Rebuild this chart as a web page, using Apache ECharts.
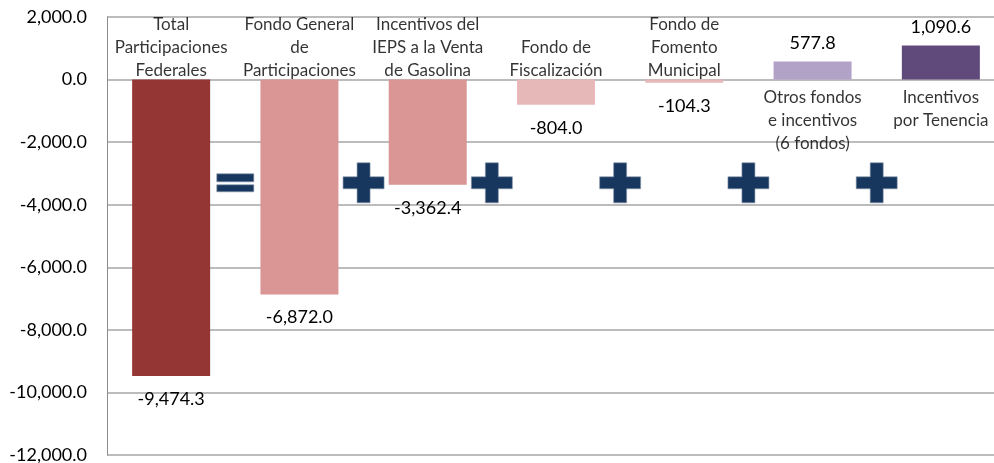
<!DOCTYPE html>
<html>
<head>
<meta charset="utf-8">
<script src="https://cdn.jsdelivr.net/npm/echarts@6/dist/echarts.min.js"></script>
<style>
  html, body { margin: 0; padding: 0; background: #fff; }
  #chart { width: 994px; height: 463px; }
</style>
</head>
<body>
<div id="chart"></div>
<script>
// categorias y valores (diferencia en millones de pesos)
const categories = [
  "Total\nParticipaciones\nFederales",
  "Fondo General\nde\nParticipaciones",
  "Incentivos del\nIEPS a la Venta\nde Gasolina",
  "Fondo de\nFiscalización",
  "Fondo de\nFomento\nMunicipal",
  "Otros fondos\ne incentivos\n(6 fondos)",
  "Incentivos\npor Tenencia",
];
const values = [-9474.3, -6872.0, -3362.4, -804.0, -104.3, 577.8, 1090.6];
const barColors = ["#943634", "#D99694", "#D99694", "#E6B9B8", "#E6B9B8", "#B3A2C7", "#604A7B"];

// signos entre barras: posicion (limite entre categorias) y nivel en el eje y
const operatorSlots = [1, 2, 3, 4, 5, 6];
const operatorSigns = ["=", "+", "+", "+", "+", "+"];
const operatorLevel = -3300;

const yMin = -12000;
const yMax = 2000;
const yStep = 2000;

const FONT = "Lato";

function fmt(v) {
  const s = Math.abs(v).toFixed(1).split(".");
  s[0] = s[0].replace(/\B(?=(\d{3})+(?!\d))/g, ",");
  return (v < 0 ? "-" : "") + s[0] + "." + s[1];
}

const plusPath = "path://M14,0h13v14h14v12h-14v14h-13v-14h-14v-12h14z";
const equalPath = "path://M0,0h37v8h-37z M0,11h37v7h-37z";

const chart = echarts.init(document.getElementById("chart"));
const option = {
  animation: false,
  grid: {
    left: 107,
    top: 17,
    width: 898,
    height: 438,
    containLabel: false,
    outerBoundsMode: "none",
  },
  xAxis: [
    {
      type: "category",
      data: categories,
      axisLine: { show: false },
      axisTick: { show: false },
      axisLabel: { show: false },
    },
    {
      type: "value",
      min: 0,
      max: categories.length,
      show: false,
    },
  ],
  yAxis: {
    type: "value",
    min: yMin,
    max: yMax,
    interval: yStep,
    axisLine: { show: true, lineStyle: { color: "#8c8c8c", width: 1 } },
    axisTick: { show: false },
    splitLine: { show: true, lineStyle: { color: "#a6a6a6", width: 1.5 } },
    axisLabel: {
      color: "#000",
      fontFamily: FONT,
      fontSize: 18,
      margin: 20,
      formatter: fmt,
    },
  },
  series: [
    {
      type: "bar",
      barWidth: 78,
      data: values.map((v, i) => ({
        value: v,
        itemStyle: { color: barColors[i] },
        label: {
          show: true,
          position: v < 0 ? "bottom" : "top",
          distance: v < 0 ? 14 : 9,
        },
      })),
      label: {
        color: "#000",
        fontFamily: FONT,
        fontSize: 18,
        formatter: (p) => fmt(p.value),
      },
    },
    {
      // nombres de las categorias junto al eje cero
      type: "scatter",
      symbolSize: 0.1,
      itemStyle: { color: "transparent" },
      data: values.map((v, i) => ({
        value: 0,
        label: {
          show: true,
          position: v < 0 ? "top" : "bottom",
          distance: v < 0 ? -2 : 6,
          formatter: categories[i],
        },
      })),
      label: {
        color: "#000",
        fontFamily: FONT,
        fontSize: 17,
        lineHeight: 23,
        align: "center",
      },
      z: 5,
    },
    {
      // signos = y +
      type: "scatter",
      xAxisIndex: 1,
      data: operatorSlots.map((x, i) => ({
        value: [x, operatorLevel],
        symbol: operatorSigns[i] === "=" ? equalPath : plusPath,
        symbolSize: operatorSigns[i] === "=" ? [37, 18] : [41, 40],
      })),
      itemStyle: { color: "#17375E", opacity: 1, borderColor: "#8896aa", borderWidth: 0.6 },
      z: 6,
    },
  ],
};
chart.setOption(option);
window.addEventListener("resize", function () {
  chart.resize();
});
</script>
</body>
</html>
